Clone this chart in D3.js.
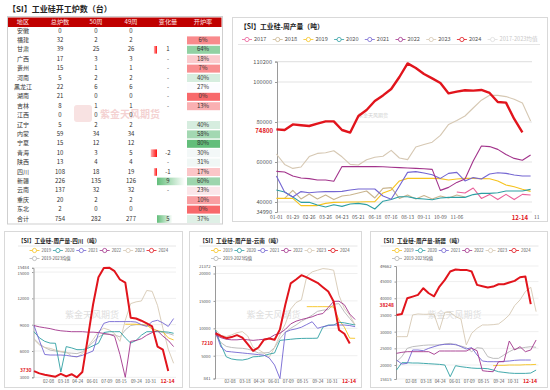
<!DOCTYPE html>
<html><head><meta charset="utf-8">
<script src="https://cdn.jsdelivr.net/npm/d3@7"></script>
<style>
body{margin:0;background:#fff}
svg{display:block}
text{font-family:"Noto Sans CJK SC","Noto Sans",sans-serif}
</style></head>
<body><svg id="c" width="550" height="390"></svg>
<script>
// ---------------- TABLE DATA ----------------
const tableHeader = ["地区","总炉数","50周","49周","变化量","开炉率"];
const regions = ["安徽","福建","甘肃","广西","贵州","河南","黑龙江","湖南","吉林","江西","辽宁","内蒙","宁夏","青海","陕西","四川","新疆","云南","重庆","东北","合计"];
const totalFurnaces = [0,32,39,17,15,5,22,21,8,0,5,59,15,10,13,108,226,137,20,2,754];
const week50 = [0,2,25,3,1,2,6,0,1,0,2,34,12,3,4,18,135,32,2,0,282];
const week49 = [0,2,26,3,1,2,6,0,1,0,2,34,12,5,4,19,126,32,2,0,277];
const changeLabels = ["","","1","-","-","-","-","-","-","","","","","-2","-","-1","9","-","","","5"];
const changeBars = [0,0,-1,0,0,0,0,0,0,0,0,0,0,-2,0,-1,9,0,0,0,5];
const openRates = [null,6,64,18,7,40,27,0,13,null,40,58,80,30,31,17,60,23,10,0,37];

// ---------------- TOP-RIGHT CHART DATA (weekly production, t) ----------------
const topTickLabels = ["01-01","01-29","02-26","03-26","04-23","05-21","06-18","07-16","08-13","09-11","10-09","11-06","12-14","11"];
const topTickPos = [0,2,4,6,8,10,12,14,16,18,20,22,29.7,31.75];
const topYTicks = [34990,40000,60000,80000,100000,110200];
const topLast = 74800;
const top2017 = [null,null,null,null,null,null,null,null,null,null,null,null,null,null,null,null,null,null,null,null,null,null,45000,44500,47000,41800,43800,41200,43800,41200,43800,43500];
const top2018 = [null,41800,45800,41500,44000,41500,43500,41200,43000,43500,44500,45500,42000,46800,47200,41800,43500,41500,43200,41500,43000,42000,43500,42500];
const top2019 = [41800,41800,41800,38200,38200,38200,39300,39800,39900,40000,40000,40100,40200,44500,46000,50500,51800,51800,51800,51800,51700,51000,51500,51800,51800,51700,51600,50500,48500,47600,46400,45300];
const top2020 = [46000,45000,42500,39800,39900,38500,37500,38600,37800,39000,39300,38700,36500,40400,41200,42600,42600,41800,41500,41100,42000,42300,42300,42300,43700,44300,44300,44600,45500,45500,45500,46300];
const top2021 = [53000,45000,42500,45200,44600,45000,45200,45200,45300,46000,46500,46500,46500,43000,41400,48000,54800,55200,54500,53600,51800,54300,54800,50500,52200,51500,54000,54600,54300,53500,53000,53000];
const top2022 = [55300,55000,53000,52000,51700,51000,51000,50400,57700,57700,57700,57700,57700,57600,57400,57200,57000,56800,56600,56300,45800,47300,49800,51500,60500,68000,67700,66300,63700,61800,60900,63500];
const top2023 = [64000,58800,56800,57500,62700,64300,64600,65600,62600,58800,58500,61100,62400,62900,65800,62000,61200,67500,68700,69900,73300,78800,80800,83000,87000,90900,93400,93300,92700,91400,89500,80500];
const top2024 = [76300,76000,78800,78400,78000,79200,80300,80300,76000,74700,83000,86000,90500,93300,96500,102500,109300,107000,104000,101800,99500,94300,95200,95900,95700,96000,94500,90000,89700,81500,74800];

// ---------------- BOTTOM CHARTS DATA (every 2 weeks) ----------------
const smallTickLabels = ["02-08","03-18","04-24","06-01","07-09","08-15","09-24","10-31","12-14"];

const scYTicks = [3000,6000,9000,12000,15000,15484];
const sc2019 = [null,null,null,null,null,null,null,null,null,null,null,null,null,null,null,null,null,9050,9050,9050,9000,8950,8500,8300,8200,7500,7260];
const sc2020 = [8200,7500,7100,6900,6880,3600,6500,6350,6150,6150,6300,6600,6880,8100,8200,8200,8200,7500,6900,7200,7800,8200,8200,8200,8200,8150,8020];
const sc2021 = [8900,7200,5600,5540,5540,5540,5500,5400,5350,5500,5750,6000,8000,9150,9350,9350,9350,9350,9350,9300,9000,8800,9350,9500,9200,8800,9700];
const sc2022 = [8900,8750,8650,8550,8400,8300,8250,8200,8200,8200,8150,8150,8100,8000,7900,7700,5600,3000,7100,7200,7400,7800,8100,8300,7700,7200,6500];
const sc2023 = [7300,6700,6400,6300,6100,5950,5900,5400,5300,5700,6500,7300,8200,8600,8400,8000,7100,9500,11400,11600,11700,12900,12800,11200,8600,6200,4600];
const sc2024 = [3700,3450,3300,3180,3070,3400,3100,3350,3000,3600,7400,11300,14400,15450,15500,15100,14150,13800,9800,9700,9450,9150,8800,6500,6150,3730];
const scMean = [7400,6800,6400,6100,6000,5900,5800,5750,5700,5900,6400,7000,7600,7900,7900,7850,7600,8400,8900,9000,9000,8900,8600,8300,8100,8000,7800];

const ynYTicks = [841,5000,10000,15000,20000,21372];
const yn2019 = [null,null,null,null,null,null,null,null,null,null,null,null,null,null,null,null,null,13950,13950,13950,13950,13950,13900,11500,10200,8200,8170];
const yn2020 = [9700,7000,4800,4400,4250,4210,4400,4800,4850,5000,5300,5500,7800,7900,8000,8100,8150,8170,8170,8200,10200,10600,10600,11100,11000,10800,10600];
const yn2021 = [9400,6600,5800,5700,5600,5500,5400,5300,5200,5100,4600,3300,841,9300,9700,9900,10200,10700,11200,10000,10300,10500,10600,10600,10600,10500,10300];
const yn2022 = [8800,8300,8000,7900,7900,8000,7900,7800,7900,8000,8200,8800,9100,9800,10800,11300,11600,11850,12100,12500,12700,13800,14900,14950,14300,12600,11600];
const yn2023 = [9800,8700,8500,8800,9200,9400,8600,6500,6100,5500,4700,6500,8800,10800,13500,14700,15200,19500,20300,20600,20900,20800,20600,16000,13600,12400,10600];
const yn2024 = [9100,8600,8200,8400,8750,8300,7100,5900,6500,7900,8150,7900,9800,14300,18200,18900,19700,19300,18800,18300,17500,16700,14900,9700,9000,7210];
const ynMean = [8800,7400,6700,6500,6400,6350,6200,5900,5500,5500,5600,6500,8100,9300,10000,10600,11300,11800,12400,13100,13300,13400,14400,14500,13000,11800,10600];

const xjYTicks = [15815,20000,25000,30000,35000,40000,45000,49662];
const xj2019 = [null,null,null,null,null,null,null,null,null,null,null,null,null,null,null,null,null,null,19800,19900,19900,20000,20000,20000,20100,20100,20200];
const xj2020 = [18500,20700,20700,20600,20600,20500,20400,20300,20200,20000,16500,19800,19500,19300,19100,19000,19000,18900,18500,18000,17800,17600,17500,17500,17500,17600,18500];
const xj2021 = [21500,20300,20500,24500,24500,24300,25000,25500,26000,26200,26200,26200,25500,24800,25200,23000,21200,21000,21000,21000,21100,21200,21400,21500,21500,21500];
const xj2022 = [23500,23800,24000,24000,24000,24000,24000,23200,24200,24200,24200,24200,24200,24200,25000,24300,18300,18100,18000,21000,21000,27200,24500,25500,24000,24500,27500];
const xj2023 = [28500,28500,28500,35000,35300,35200,35200,35200,30500,35800,35800,34500,33800,26000,29500,31000,32000,32000,32100,32300,33500,35000,37800,39500,42000,43300,36000];
const xj2024 = [35000,35300,40000,40500,41000,43000,41500,40600,43500,45500,48000,48600,48500,48500,48000,44000,43600,43200,43500,44200,44200,44700,45200,46300,46500,38248];
const xjMean = [21000,22500,25000,25500,25700,25900,26000,26000,26000,26300,26500,26000,25700,25200,24000,25200,25000,22500,22000,22000,23000,24000,24800,25000,25300,25500,25300];

const colors = {"2017":"#ea5f99","2018":"#c9b58f","2019":"#f6c31f","2020":"#2e9fa3","2021":"#7466d2","2022":"#a2338b","2023":"#d6c8b3","2024":"#e1141c","mean":"#b5b5b5","meanTop":"#dddddd"};

const svg = d3.select("#c");

// ================= TABLE =================
(function(){
  const g = svg.append("g");
  g.append("text").attr("x",8).attr("y",11.5).attr("font-size",8).attr("font-weight","bold").attr("fill","#222")
    .text("【SI】工业硅开工炉数（台）");
  const colX = [23,60,96,131,168,203];
  const rowY = d3.scaleLinear().domain([0,20]).range([31,219]);
  g.append("rect").attr("x",7.5).attr("y",16.5).attr("width",215).attr("height",207.5).attr("fill","none").attr("stroke","#cfcfcf");
  g.append("rect").attr("x",8).attr("y",17.5).attr("width",213.5).attr("height",9.5).attr("fill","#c00000");
  g.selectAll(".hd").data(tableHeader).join("text").attr("x",(d,i)=>colX[i]).attr("y",22.4)
    .attr("text-anchor","middle").attr("dominant-baseline","middle").attr("font-size",6.2).attr("fill","#fbe3e3").text(d=>d);

  // watermark
  g.append("rect").attr("x",74).attr("y",105).attr("width",18).attr("height",17).attr("rx",3).attr("fill","#f8e2e2");
  g.append("text").attr("x",100).attr("y",118).attr("font-size",10).attr("fill","#f4d2d2").attr("font-weight","bold").text("紫金天风期货");

  const rateColor = d3.scaleLinear().domain([0,27,80]).range(["#f8696b","#fcfcff","#63be7b"]);
  const defs = svg.append("defs");
  const gg = defs.append("linearGradient").attr("id","gbar");
  gg.append("stop").attr("offset","0%").attr("stop-color","#63be7b");
  gg.append("stop").attr("offset","100%").attr("stop-color","#ffffff");
  const rg = defs.append("linearGradient").attr("id","rbar");
  rg.append("stop").attr("offset","0%").attr("stop-color","#ffb0b0");
  rg.append("stop").attr("offset","100%").attr("stop-color","#ff1010");

  const bx = d3.scaleLinear().domain([0,9]).range([157,185]);
  regions.forEach((r,i)=>{
    const y = rowY(i);
    if (openRates[i] !== null) {
      g.append("rect").attr("x",187).attr("y",y-4).attr("width",33).attr("height",8).attr("fill",rateColor(openRates[i]));
      g.append("text").attr("x",colX[5]).attr("y",y).attr("text-anchor","middle").attr("dominant-baseline","middle")
        .attr("font-size",6).attr("fill","#333").text(openRates[i]+"%");
    }
    const b = changeBars[i];
    if (b !== 0) {
      const x1 = Math.min(bx(0),bx(b)), w = Math.abs(bx(b)-bx(0));
      g.append("rect").attr("x",x1).attr("y",y-3.8).attr("width",w).attr("height",7.6)
        .attr("fill", b>0 ? "url(#gbar)" : "url(#rbar)");
    }
    const vals = [r,totalFurnaces[i],week50[i],week49[i],changeLabels[i]];
    vals.forEach((v,j)=>{
      g.append("text").attr("x",colX[j]).attr("y",y).attr("text-anchor","middle").attr("dominant-baseline","middle")
        .attr("font-size",6).attr("fill","#333").text(v);
    });
  });
})();

function legendItem(g,x,y,color,label,fs,tcol){
  g.append("line").attr("x1",x).attr("x2",x+10).attr("y1",y).attr("y2",y).attr("stroke",color).attr("stroke-width",0.8);
  g.append("circle").attr("cx",x+5).attr("cy",y).attr("r",2.1).attr("fill","#fff").attr("stroke",color).attr("stroke-width",0.8);
  g.append("text").attr("x",x+12).attr("y",y).attr("dominant-baseline","middle").attr("font-size",fs).attr("fill",tcol||"#555").text(label);
}

// ================= TOP-RIGHT CHART =================
(function(){
  const g = svg.append("g");
  g.append("rect").attr("x",232.5).attr("y",17.5).attr("width",315).attr("height",204).attr("fill","#fff").attr("stroke","#d9d9d9");
  g.append("text").attr("x",240).attr("y",29).attr("font-size",6.8).attr("font-weight","bold").attr("fill","#222").text("【SI】工业硅-周产量（吨）");
  const names = ["2017","2018","2019","2020","2021","2022","2023","2024","2017-2023均值"];
  const keys = ["2017","2018","2019","2020","2021","2022","2023","2024","meanTop"];
  const lx = d3.scaleLinear().domain([0,1]).range([242,272.7]);
  names.forEach((n,i)=>legendItem(g,lx(i),39.5,colors[keys[i]],n,5.6, i===8?"#c8c8c8":"#555"));
  g.append("line").attr("x1",238).attr("x2",540).attr("y1",44.5).attr("y2",44.5).attr("stroke","#e6e6e6");

  const x = d3.scaleLinear().domain([0,31.75]).range([276.4,536.75]);
  const y = d3.scaleLinear().domain([34990,110200]).range([212,61.6]);
  g.selectAll(".gl").data(topYTicks).join("line").attr("x1",277).attr("x2",532).attr("y1",d=>y(d)).attr("y2",d=>y(d))
    .attr("stroke","#e4e4e4").attr("stroke-width",1.2);
  const ya = g.append("g").attr("transform","translate(277,0)").call(d3.axisLeft(y).tickValues(topYTicks).tickSize(2).tickFormat(d3.format("d")));
  ya.select(".domain").attr("stroke","#9a9a9a");
  ya.selectAll("line").attr("stroke","#9a9a9a");
  ya.selectAll("text").attr("font-size",5.6).attr("fill","#555").attr("font-family","Noto Sans, sans-serif");
  g.append("text").attr("x",273).attr("y",y(topLast)-1.5).attr("text-anchor","end").attr("dominant-baseline","middle")
    .attr("font-size",6).attr("font-weight","bold").attr("fill","#e1141c").text(topLast);
  topTickLabels.forEach((t,i)=>{
    const last = t==="12-14";
    g.append("text").attr("x",x(topTickPos[i])).attr("y",218).attr("text-anchor","middle").attr("dominant-baseline","middle")
      .attr("font-size",last?6:5).attr("font-weight",last?"bold":"normal").attr("fill",last?"#e1141c":"#555").text(t);
  });
  g.append("text").attr("x",373).attr("y",117).attr("text-anchor","middle").attr("font-size",5).attr("fill","#d0d0d0").text("紫金天风期货");

  const line = d3.line().defined(d=>d!=null).x((d,i)=>x(i)).y(d=>y(d)).curve(d3.curveLinear);
  const series = [["2018",top2018],["2017",top2017],["2019",top2019],["2020",top2020],["2021",top2021],["2022",top2022],["2023",top2023],["2024",top2024]];
  series.forEach(([k,v])=>{
    g.append("path").attr("d",line(v)).attr("fill","none").attr("stroke",colors[k])
      .attr("stroke-width",k==="2024"?2.4:1.1).attr("stroke-linejoin","round");
  });
})();

// ================= SMALL CHARTS =================
function smallChart(cfg){
  const g = svg.append("g");
  const x0 = cfg.x0;
  g.append("rect").attr("x",cfg.px).attr("y",231.5).attr("width",cfg.pw).attr("height",156).attr("fill","#fff").attr("stroke","#d9d9d9");
  g.append("text").attr("x",x0-16).attr("y",242.5).attr("font-size",5.6).attr("font-weight","bold").attr("fill","#222").text(cfg.title);
  g.append("line").attr("x1",x0-16).attr("x2",x0+142).attr("y1",246).attr("y2",246).attr("stroke","#e6e6e6");
  const names = ["2019","2020","2021","2022","2023","2024"];
  const lx = d3.scaleLinear().domain([0,1]).range([x0-4.5,x0+18.9]);
  names.forEach((n,i)=>legendItem(g,lx(i),250.5,colors[n],n,4.3));
  legendItem(g,x0-4.5,258.5,colors.mean,"2019-2023均值",4.3);

  const x = d3.scaleLinear().domain([0,52.14]).range([x0,x0+140]);
  const y = d3.scaleLinear().domain(cfg.domain).range(cfg.range);
  g.selectAll(".gl").data(cfg.ticks).join("line").attr("x1",x0).attr("x2",x0+142).attr("y1",d=>y(d)).attr("y2",d=>y(d)).attr("stroke","#efefef");
  const ya = g.append("g").attr("transform",`translate(${x0-0.5},0)`).call(d3.axisLeft(y).tickValues(cfg.ticks).tickSize(1.5).tickFormat(d3.format("d")));
  ya.select(".domain").attr("stroke","#9a9a9a");
  ya.selectAll("line").attr("stroke","#9a9a9a");
  ya.selectAll("text").attr("font-size",4.2).attr("fill","#555").attr("font-family","Noto Sans, sans-serif");
  const n = cfg.ticks.length;
  const gap = y(cfg.ticks[n-2]) - y(cfg.ticks[n-1]);
  if (gap < 5.5) {
    const push = (5.5 - gap)/2 + 0.3;
    ya.selectAll(".tick text").filter(d=>d===cfg.ticks[n-1]).attr("transform",`translate(0,${-push})`);
    ya.selectAll(".tick text").filter(d=>d===cfg.ticks[n-2]).attr("transform",`translate(0,${push})`);
  }
  g.append("text").attr("x",x0-2.5).attr("y",y(cfg.last)+(cfg.lastDy||0)).attr("text-anchor","end").attr("dominant-baseline","middle")
    .attr("font-size",4.9).attr("font-weight","bold").attr("fill","#e1141c").text(cfg.last);
  const parse = d3.timeParse("%Y-%m-%d");
  smallTickLabels.forEach(t=>{
    const d = parse("2024-"+t);
    const wk = d3.timeDay.count(d3.timeYear(d), d)/7;
    const last = t==="12-14";
    g.append("text").attr("x",x(wk)).attr("y",382).attr("text-anchor","middle").attr("dominant-baseline","middle")
      .attr("font-size",last?5.2:4.3).attr("font-weight",last?"bold":"normal").attr("fill",last?"#e1141c":"#555").text(t);
  });
  g.append("text").attr("x",x0+58).attr("y",318).attr("text-anchor","middle").attr("font-size",9).attr("fill","#dedede").text("紫金天风期货");
  const line = d3.line().defined(d=>d!=null).x((d,i)=>x(i*2)).y(d=>y(d));
  const order = [["mean",cfg.s.mean],["2023",cfg.s["2023"]],["2019",cfg.s["2019"]],["2020",cfg.s["2020"]],["2021",cfg.s["2021"]],["2022",cfg.s["2022"]],["2024",cfg.s["2024"]]];
  order.forEach(([k,v])=>{
    g.append("path").attr("d",line(v)).attr("fill","none").attr("stroke",colors[k])
      .attr("stroke-width",k==="2024"?2:0.9).attr("stroke-linejoin","round");
  });
}

smallChart({x0:34,px:4.5,pw:178,title:"【SI】工业硅-周产量-四川（吨）",domain:[3000,15484],range:[377.3,267.8],ticks:scYTicks,last:3730,
  s:{"2019":sc2019,"2020":sc2020,"2021":sc2021,"2022":sc2022,"2023":sc2023,"2024":sc2024,"mean":scMean}});
smallChart({x0:215.5,px:189.5,pw:172,title:"【SI】工业硅-周产量-云南（吨）",domain:[841,21372],range:[378.5,266],ticks:ynYTicks,last:7210,
  s:{"2019":yn2019,"2020":yn2020,"2021":yn2021,"2022":yn2022,"2023":yn2023,"2024":yn2024,"mean":ynMean}});
smallChart({x0:396.5,px:370.5,pw:177,title:"【SI】工业硅-周产量-新疆（吨）",domain:[15815,49662],range:[379,266],ticks:xjYTicks,last:38248,lastDy:1.2,
  s:{"2019":xj2019,"2020":xj2020,"2021":xj2021,"2022":xj2022,"2023":xj2023,"2024":xj2024,"mean":xjMean}});
</script></body></html>
